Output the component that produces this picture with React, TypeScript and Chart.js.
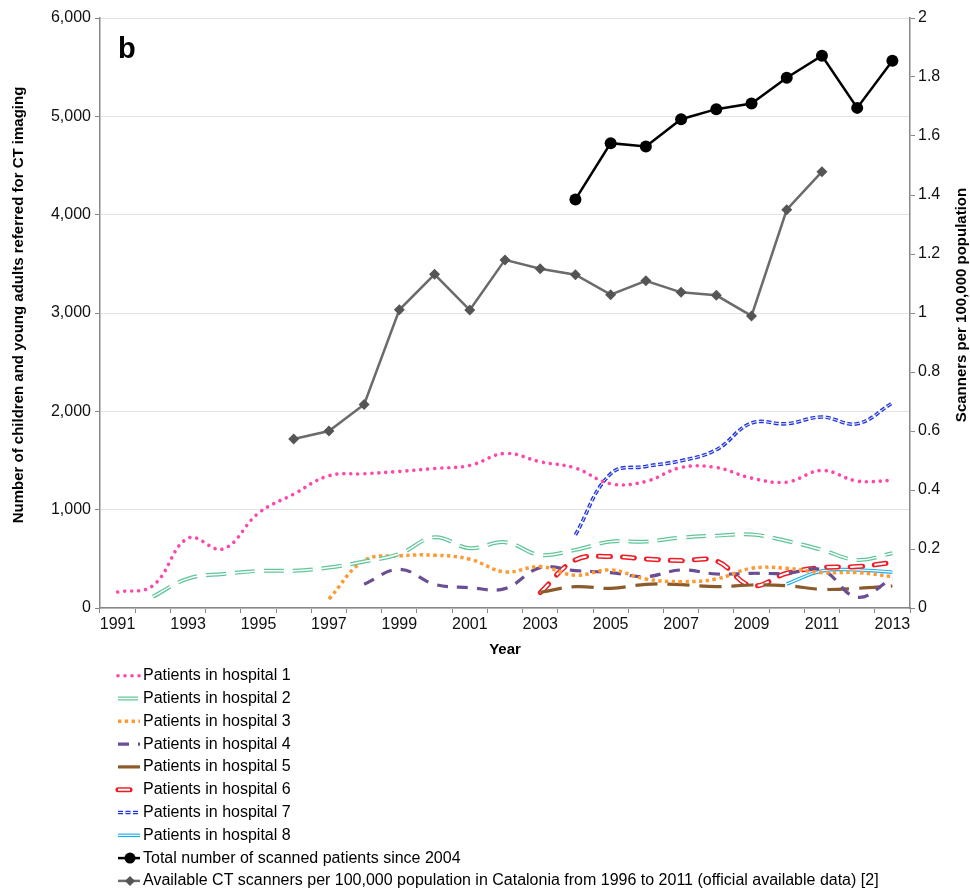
import React, { useEffect, useRef } from 'react';
import { Chart, registerables } from 'chart.js';

Chart.register(...registerables);

const FONT = '"Liberation Sans", Arial, Helvetica, sans-serif';

const years = ['1991', '1992', '1993', '1994', '1995', '1996', '1997', '1998', '1999', '2000', '2001', '2002',
  '2003', '2004', '2005', '2006', '2007', '2008', '2009', '2010', '2011', '2012', '2013'];

const hospital1 = [163, 227, 710, 601, 965, 1158, 1345, 1365, 1389, 1419, 1450, 1572, 1487, 1423, 1263, 1287, 1429, 1429, 1321, 1280, 1399, 1291, 1297];
const hospital2 = [null, 115, 299, 346, 377, 380, 411, 472, 550, 720, 608, 669, 540, 591, 675, 675, 716, 736, 747, 682, 591, 489, 557];
const hospital3 = [null, null, null, null, null, null, 92, 482, 530, 537, 496, 367, 421, 333, 387, 295, 268, 295, 404, 404, 360, 360, 319];
const hospital4 = [null, null, null, null, null, null, null, 241, 394, 241, 207, 197, 411, 380, 360, 319, 387, 346, 353, 353, 387, 109, 302];
const hospital5 = [null, null, null, null, null, null, null, null, null, null, null, null, 160, 217, 200, 241, 238, 217, 234, 227, 190, 200, 224];
const hospital6 = [null, null, null, null, null, null, null, null, null, null, null, null, 156, 489, 523, 499, 482, 479, 227, 353, 411, 421, 462];
const hospital7 = [null, null, null, null, null, null, null, null, null, null, null, null, null, 744, 1365, 1440, 1497, 1609, 1881, 1874, 1942, 1874, 2085];
const hospital8 = [null, null, null, null, null, null, null, null, null, null, null, null, null, null, null, null, null, null, null, 244, 377, 387, 364];
const totalScanned = [null, null, null, null, null, null, null, null, null, null, null, null, null, 4155, 4727, 4693, 4971, 5073, 5131, 5392, 5616, 5086, 5565];
const scannersPer100k = [null, null, null, null, null, 0.573, 0.6, 0.69, 1.011, 1.131, 1.01, 1.18, 1.15, 1.13, 1.062, 1.109, 1.07, 1.06, 0.99, 1.35, 1.479, null, null];

const leftTitle = 'Number of children and young adults referred for CT imaging';
const rightTitle = 'Scanners per 100,000 population';
const xTitle = 'Year';
const panelLabel = 'b';

const doubleLine = {
  id: 'doubleLine',
  afterDatasetDraw(chart: any, args: any) {
    const ds: any = chart.data.datasets[args.index];
    if (!ds.inner) return;
    const el: any = args.meta.dataset;
    if (!el) return;
    const p = new Path2D();
    el.path(p);
    const ctx = chart.ctx;
    const a = chart.chartArea;
    ctx.save();
    ctx.beginPath();
    ctx.rect(a.left, a.top - 5, a.right - a.left, a.bottom - a.top + 10);
    ctx.clip();
    ctx.strokeStyle = '#ffffff';
    ctx.lineWidth = ds.inner;
    ctx.lineCap = 'butt';
    ctx.lineJoin = 'round';
    ctx.setLineDash(ds.borderDash || []);
    ctx.stroke(p);
    ctx.restore();
  },
};

const decorations = {
  id: 'decorations',
  afterDraw(chart: any) {
    const ctx = chart.ctx;
    ctx.save();
    ctx.fillStyle = '#000';
    // panel label
    ctx.font = `bold 29px ${FONT}`;
    ctx.textAlign = 'left';
    ctx.textBaseline = 'alphabetic';
    ctx.fillText(panelLabel, 118, 58);
    // axis titles
    ctx.font = `bold 15px ${FONT}`;
    ctx.textAlign = 'center';
    ctx.textBaseline = 'middle';
    ctx.fillText(xTitle, 505, 650);
    ctx.save();
    ctx.translate(19, 305);
    ctx.rotate(-Math.PI / 2);
    ctx.fillText(leftTitle, 0, 0);
    ctx.restore();
    ctx.save();
    ctx.translate(962, 305);
    ctx.rotate(-Math.PI / 2);
    ctx.fillText(rightTitle, 0, 0);
    ctx.restore();

    // legend
    const x1 = 118;
    const x2 = 140;
    const top = 675.7;
    const step = 22.8;
    chart.data.datasets.forEach((ds: any, i: number) => {
      const y = top + i * step;
      ctx.save();
      ctx.strokeStyle = ds.borderColor;
      ctx.lineWidth = ds.borderWidth;
      ctx.lineCap = ds.borderCapStyle || 'butt';
      ctx.setLineDash(ds.borderDash || []);
      ctx.beginPath();
      ctx.moveTo(x1, y);
      ctx.lineTo(x2, y);
      ctx.stroke();
      if (ds.inner) {
        ctx.strokeStyle = '#fff';
        ctx.lineWidth = ds.inner;
        ctx.lineCap = 'butt';
        ctx.beginPath();
        ctx.moveTo(x1, y);
        ctx.lineTo(x2, y);
        ctx.stroke();
      }
      ctx.setLineDash([]);
      if (ds.pointRadius && ds.pointRadius > 0) {
        ctx.fillStyle = ds.pointBackgroundColor;
        ctx.beginPath();
        const cx = 130;
        if (ds.pointStyle === 'rectRot') {
          const r = 5;
          ctx.moveTo(cx, y - r);
          ctx.lineTo(cx + r, y);
          ctx.lineTo(cx, y + r);
          ctx.lineTo(cx - r, y);
          ctx.closePath();
        } else {
          ctx.arc(cx, y, 5.5, 0, Math.PI * 2);
        }
        ctx.fill();
      }
      ctx.restore();
      ctx.fillStyle = '#000';
      ctx.font = `16px ${FONT}`;
      ctx.textAlign = 'left';
      ctx.textBaseline = 'middle';
      ctx.fillText(ds.label, 143, y);
    });
    ctx.restore();
  },
};

export default function App() {
  const ref = useRef<HTMLCanvasElement>(null);

  useEffect(() => {
    document.body.style.margin = '0';
    const canvas = ref.current;
    if (!canvas) return;

    const smooth = 0.4;
    const line = (label: string, data: (number | null)[], extra: any) => ({
      label,
      data,
      yAxisID: 'y',
      fill: false,
      pointRadius: 0,
      pointHoverRadius: 0,
      tension: smooth,
      borderJoinStyle: 'round',
      ...extra,
    });

    const datasets: any[] = [
      line('Patients in hospital 1', hospital1, { borderColor: '#ff47ab', borderWidth: 3.6, borderDash: [0.01, 7], borderCapStyle: 'round' }),
      line('Patients in hospital 2', hospital2, { borderColor: '#5fc598', borderWidth: 4, borderDash: [20, 9], inner: 1.5 }),
      line('Patients in hospital 3', hospital3, { borderColor: '#ff9a33', borderWidth: 3.5, borderDash: [3.4, 3.4] }),
      line('Patients in hospital 4', hospital4, { borderColor: '#6a4e94', borderWidth: 3.2, borderDash: [11, 9] }),
      line('Patients in hospital 5', hospital5, { borderColor: '#8c5b2c', borderWidth: 3.2, borderDash: [22, 10] }),
      line('Patients in hospital 6', hospital6, { borderColor: '#ee1c24', borderWidth: 5, borderDash: [12, 12], borderCapStyle: 'round', inner: 2 }),
      line('Patients in hospital 7', hospital7, { borderColor: '#2236e0', borderWidth: 3.6, borderDash: [5, 2.5], inner: 0.9 }),
      line('Patients in hospital 8', hospital8, { borderColor: '#1aaeea', borderWidth: 3.5, borderDash: [], inner: 1.2 }),
      {
        label: 'Total number of scanned patients since 2004',
        data: totalScanned,
        yAxisID: 'y',
        borderColor: '#000',
        backgroundColor: '#000',
        borderWidth: 2.5,
        tension: 0,
        pointStyle: 'circle',
        pointRadius: 6,
        pointBackgroundColor: '#000',
        pointBorderColor: '#000',
        pointBorderWidth: 0,
        fill: false,
      },
      {
        label: 'Available CT scanners per 100,000 population in Catalonia from 1996 to 2011 (official available data) [2]',
        data: scannersPer100k,
        yAxisID: 'y1',
        borderColor: '#6b6b6b',
        backgroundColor: '#555',
        borderWidth: 2.5,
        tension: 0,
        pointStyle: 'rectRot',
        pointRadius: 5.5,
        pointBackgroundColor: '#555',
        pointBorderColor: '#555',
        pointBorderWidth: 0,
        fill: false,
      },
    ];

    const tickFont = { family: FONT, size: 16 };

    const chart = new Chart(canvas, {
      type: 'line',
      data: { labels: years, datasets },
      plugins: [doubleLine, decorations],
      options: {
        animation: false,
        responsive: true,
        maintainAspectRatio: false,
        layout: { padding: { top: 18, bottom: 243, left: 0, right: 0 } },
        plugins: {
          legend: { display: false },
          tooltip: { enabled: false },
          title: { display: false },
        },
        scales: {
          x: {
            type: 'category',
            offset: true,
            grid: { offset: true, drawOnChartArea: false, drawTicks: true, tickLength: 5, tickColor: '#888', lineWidth: 1 },
            border: { display: true, color: '#888', width: 1.5 },
            ticks: {
              autoSkip: false,
              maxRotation: 0,
              minRotation: 0,
              padding: 2,
              color: '#111',
              font: tickFont,
              callback: (_v: any, i: number) => (i % 2 === 0 ? years[i] : ''),
            },
            afterFit: (s: any) => { s.height = 40; },
          },
          y: {
            position: 'left',
            min: 0,
            max: 6000,
            ticks: { stepSize: 1000, padding: 4, color: '#111', font: tickFont },
            grid: { color: '#e2e2e2', tickColor: '#888', tickLength: 5, lineWidth: 1 },
            border: { display: true, color: '#888', width: 1.5 },
            afterFit: (s: any) => { s.width = 100; },
          },
          y1: {
            position: 'right',
            min: 0,
            max: 2,
            ticks: {
              stepSize: 0.2,
              padding: 3,
              color: '#111',
              font: tickFont,
              callback: (v: any) => String(Number(Number(v).toFixed(1))),
            },
            grid: { drawOnChartArea: false, tickColor: '#888', tickLength: 5 },
            border: { display: true, color: '#888', width: 1.5 },
            afterFit: (s: any) => { s.width = 60; },
          },
        },
      } as any,
    });

    return () => chart.destroy();
  }, []);

  return (
    <div style={{ width: 970, height: 891, position: 'relative' }}>
      <canvas ref={ref} style={{ display: 'block' }} />
    </div>
  );
}
